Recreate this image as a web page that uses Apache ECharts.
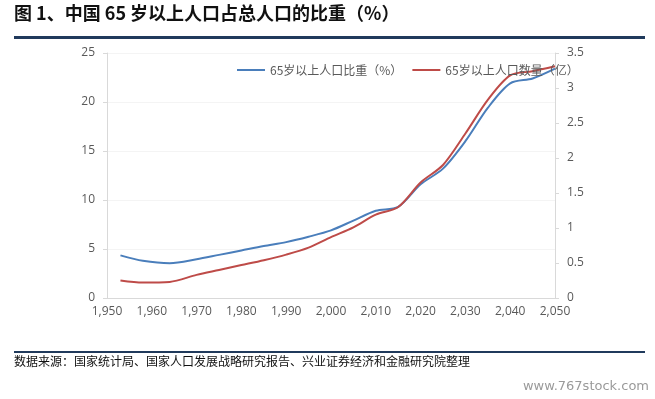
<!DOCTYPE html>
<html>
<head>
<meta charset="utf-8">
<script src="https://cdn.jsdelivr.net/npm/echarts@6/dist/echarts.min.js"></script>
<style>
  html, body { margin: 0; padding: 0; background: #fff; }
  #chart { width: 655px; height: 399px; }
</style>
</head>
<body>
<div id="chart"></div>
<script>
const years = [1953, 1958, 1964, 1970, 1975, 1980, 1985, 1990, 1995, 2000, 2005, 2010, 2015, 2020, 2025, 2030, 2035, 2040, 2045, 2050];
const shareValues = [4.35, 3.8, 3.55, 3.95, 4.4, 4.85, 5.3, 5.7, 6.25, 6.9, 7.9, 8.9, 9.3, 11.6, 13.2, 16.0, 19.4, 21.9, 22.4, 23.4];
const countValues = [0.25, 0.22, 0.23, 0.33, 0.4, 0.47, 0.54, 0.62, 0.72, 0.87, 1.01, 1.19, 1.3, 1.65, 1.9, 2.35, 2.83, 3.18, 3.24, 3.31];
const shareName = "65岁以上人口比重（%）";
const countName = "65岁以上人口数量（亿）";

const chart = echarts.init(document.getElementById("chart"));
const axisGray = "#D9D9D9";
const labelGray = "#595959";
const cjk = "'Noto Sans CJK SC', sans-serif";
const num = "'Open Sans', sans-serif";

chart.setOption({
  animation: false,
  grid: { left: 107, right: 100, top: 53, bottom: 101 },
  legend: {
    left: 232,
    top: 59,
    itemWidth: 28,
    itemHeight: 2,
    itemGap: 10,
    icon: "rect",
    textStyle: { color: labelGray, fontSize: 12, fontFamily: cjk },
    data: [shareName, countName],
  },
  xAxis: {
    type: "value",
    min: 1950,
    max: 2050,
    interval: 10,
    axisLine: { lineStyle: { color: axisGray } },
    axisTick: { show: false },
    splitLine: { show: false },
    axisLabel: { color: labelGray, fontSize: 12, margin: 8, fontFamily: num },
  },
  yAxis: [
    {
      type: "value",
      min: 0,
      max: 25,
      interval: 5,
      axisLine: { show: true, lineStyle: { color: axisGray } },
      axisTick: { show: true, length: 4, lineStyle: { color: axisGray } },
      splitLine: { lineStyle: { color: "#F4F4F4" } },
      axisLabel: { color: labelGray, fontSize: 12, margin: 12, fontFamily: num },
    },
    {
      type: "value",
      min: 0,
      max: 3.5,
      interval: 0.5,
      position: "right",
      axisLine: { show: true, lineStyle: { color: axisGray } },
      axisTick: { show: true, length: 4, lineStyle: { color: axisGray } },
      splitLine: { show: false },
      axisLabel: { color: labelGray, fontSize: 12, margin: 12, fontFamily: num },
    },
  ],
  series: [
    {
      name: shareName,
      type: "line",
      yAxisIndex: 0,
      smooth: 0.3,
      showSymbol: false,
      data: years.map((y, i) => [y, shareValues[i]]),
      lineStyle: { color: "#4A7EBB", width: 2 },
      itemStyle: { color: "#4A7EBB" },
    },
    {
      name: countName,
      type: "line",
      yAxisIndex: 1,
      smooth: 0.3,
      showSymbol: false,
      data: years.map((y, i) => [y, countValues[i]]),
      lineStyle: { color: "#BE4B48", width: 2 },
      itemStyle: { color: "#BE4B48" },
    },
  ],
  graphic: [
    {
      type: "text",
      left: 14,
      top: 4,
      style: {
        text: "图 1、中国 65 岁以上人口占总人口的比重（%）",
        font: "bold 18px 'Noto Sans CJK SC', sans-serif",
        fill: "#111",
      },
    },
    {
      type: "rect",
      shape: { x: 14, y: 36, width: 631, height: 3 },
      style: { fill: "#203A5C" },
    },
    {
      type: "rect",
      shape: { x: 14, y: 351, width: 631, height: 2 },
      style: { fill: "#203A5C" },
    },
    {
      type: "text",
      left: 14,
      top: 355,
      style: {
        text: "数据来源：国家统计局、国家人口发展战略研究报告、兴业证券经济和金融研究院整理",
        font: "12px 'Noto Sans CJK SC', sans-serif",
        fill: "#111",
      },
    },
    {
      type: "text",
      right: 6,
      top: 380,
      style: {
        text: "www.767stock.com",
        font: "13px 'DejaVu Sans', sans-serif",
        fill: "#9a9a9a",
      },
    },
  ],
});
</script>
</body>
</html>
